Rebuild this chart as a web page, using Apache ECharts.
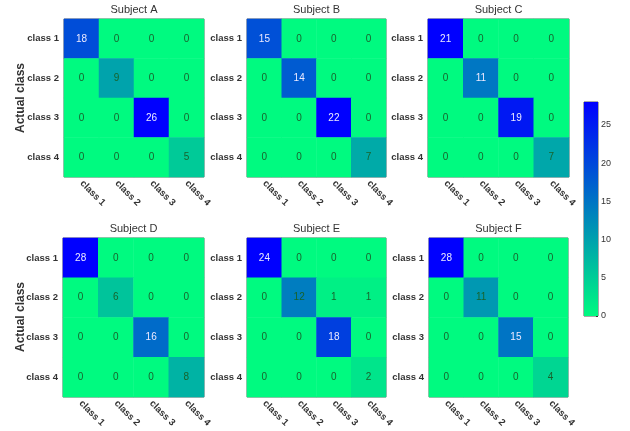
<!DOCTYPE html>
<html>
<head>
<meta charset="utf-8">
<script src="https://cdn.jsdelivr.net/npm/echarts@6/dist/echarts.min.js"></script>
<style>
  html, body { margin: 0; padding: 0; background: #fff; }
  #chart { width: 630px; height: 431px; }
</style>
</head>
<body>
<div id="chart"></div>
<script>
// Class labels shared by every confusion matrix
const classes = ['class 1', 'class 2', 'class 3', 'class 4'];
const subjects = ['Subject A', 'Subject B', 'Subject C', 'Subject D', 'Subject E', 'Subject F'];

// Confusion matrices, rows = actual class, columns = predicted class
const subjectA = [[18, 0, 0, 0], [0, 9, 0, 0], [0, 0, 26, 0], [0, 0, 0, 5]];
const subjectB = [[15, 0, 0, 0], [0, 14, 0, 0], [0, 0, 22, 0], [0, 0, 0, 7]];
const subjectC = [[21, 0, 0, 0], [0, 11, 0, 0], [0, 0, 19, 0], [0, 0, 0, 7]];
const subjectD = [[28, 0, 0, 0], [0, 6, 0, 0], [0, 0, 16, 0], [0, 0, 0, 8]];
const subjectE = [[24, 0, 0, 0], [0, 12, 1, 1], [0, 0, 18, 0], [0, 0, 0, 2]];
const subjectF = [[28, 0, 0, 0], [0, 11, 0, 0], [0, 0, 15, 0], [0, 0, 0, 4]];

// Colour bar range and ticks
const colorbarMax = 28;
const colorbarTicks = [0, 5, 10, 15, 20, 25];

const matrices = [subjectA, subjectB, subjectC, subjectD, subjectE, subjectF];
const LOW = '#00FA80';
const HIGH = '#0000FF';
const FONT = '"Liberation Sans", Arial, sans-serif';

const panels = [
  { left: 64,  top: 19,  width: 140, height: 158 },
  { left: 247, top: 19,  width: 139, height: 158 },
  { left: 428, top: 19,  width: 141, height: 158 },
  { left: 63,  top: 238, width: 141, height: 159 },
  { left: 247, top: 238, width: 139, height: 159 },
  { left: 429, top: 238, width: 139, height: 159 }
];

const grids = [], xAxes = [], yAxes = [], series = [], visualMaps = [], titles = [];

panels.forEach((p, i) => {
  const m = matrices[i];
  const maxVal = Math.max(...m.flat());
  grids.push({
    left: p.left, top: p.top, width: p.width, height: p.height,
    show: true, borderColor: '#6a6a6a', borderWidth: 1, backgroundColor: 'transparent'
  });
  xAxes.push({
    type: 'category', gridIndex: i, data: classes, position: 'bottom',
    axisLine: { show: false },
    axisTick: { show: true, inside: true, alignWithLabel: true, length: 3, lineStyle: { color: '#555' } },
    axisLabel: { rotate: -45, margin: 5, fontSize: 9.5, fontWeight: 'bold', color: '#333', fontFamily: FONT },
    splitLine: { show: false }
  });
  yAxes.push({
    type: 'category', gridIndex: i, data: classes, inverse: true,
    axisLine: { show: false },
    axisTick: { show: true, inside: true, alignWithLabel: true, length: 3, lineStyle: { color: '#555' } },
    axisLabel: { margin: 5, fontSize: 9.5, fontWeight: 'bold', color: '#333', fontFamily: FONT },
    splitLine: { show: false }
  });
  const data = [];
  m.forEach((row, r) => row.forEach((v, c) => {
    data.push({
      value: [c, r, v],
      label: { color: v / maxVal > 0.51 ? '#eceaff' : '#17632d' }
    });
  }));
  series.push({
    type: 'heatmap', xAxisIndex: i, yAxisIndex: i, data: data,
    label: { show: true, fontSize: 10, fontFamily: FONT, formatter: d => d.value[2] },
    itemStyle: { borderWidth: 0 },
    emphasis: { disabled: true }
  });
  visualMaps.push({
    type: 'continuous', show: false, seriesIndex: i, dimension: 2,
    min: 0, max: maxVal, inRange: { color: [LOW, HIGH] }
  });
  titles.push({
    text: subjects[i], left: p.left + p.width / 2, top: p.top - 15, textAlign: 'center', padding: 0,
    textStyle: { fontSize: 11, fontWeight: 'normal', color: '#333', fontFamily: FONT }
  });
});

// Colour bar drawn as a single gradient bar on its own value axis
const cbIndex = panels.length;
grids.push({ left: 584, top: 102, width: 14, height: 214, show: true, borderColor: '#555', borderWidth: 1 });
xAxes.push({
  type: 'category', gridIndex: cbIndex, data: [''],
  axisLine: { show: false }, axisTick: { show: false }, axisLabel: { show: false }
});
yAxes.push({
  type: 'value', gridIndex: cbIndex, min: 0, max: colorbarMax, interval: 5, position: 'right',
  axisLine: { show: false },
  axisTick: { show: true, inside: true, length: 2, lineStyle: { color: '#333' } },
  axisLabel: {
    fontSize: 9, color: '#333', margin: 3, fontFamily: FONT,
    formatter: v => colorbarTicks.includes(v) ? String(v) : ''
  },
  splitLine: { show: false }
});
series.push({
  type: 'bar', xAxisIndex: cbIndex, yAxisIndex: cbIndex, data: [colorbarMax],
  barWidth: '100%', silent: true,
  itemStyle: {
    color: new echarts.graphic.LinearGradient(0, 1, 0, 0, [
      { offset: 0, color: LOW }, { offset: 1, color: HIGH }
    ])
  }
});

const chart = echarts.init(document.getElementById('chart'), null, { renderer: 'canvas' });
chart.setOption({
  animation: false,
  backgroundColor: '#fff',
  title: titles,
  grid: grids,
  xAxis: xAxes,
  yAxis: yAxes,
  visualMap: visualMaps,
  series: series,
  graphic: [
    { type: 'text', x: 21, y: 98, rotation: Math.PI / 2,
      style: { text: 'Actual class', font: 'bold 12px "Liberation Sans", Arial', fill: '#333', align: 'center', verticalAlign: 'middle' } },
    { type: 'text', x: 21, y: 317, rotation: Math.PI / 2,
      style: { text: 'Actual class', font: 'bold 12px "Liberation Sans", Arial', fill: '#333', align: 'center', verticalAlign: 'middle' } }
  ]
});
</script>
</body>
</html>
